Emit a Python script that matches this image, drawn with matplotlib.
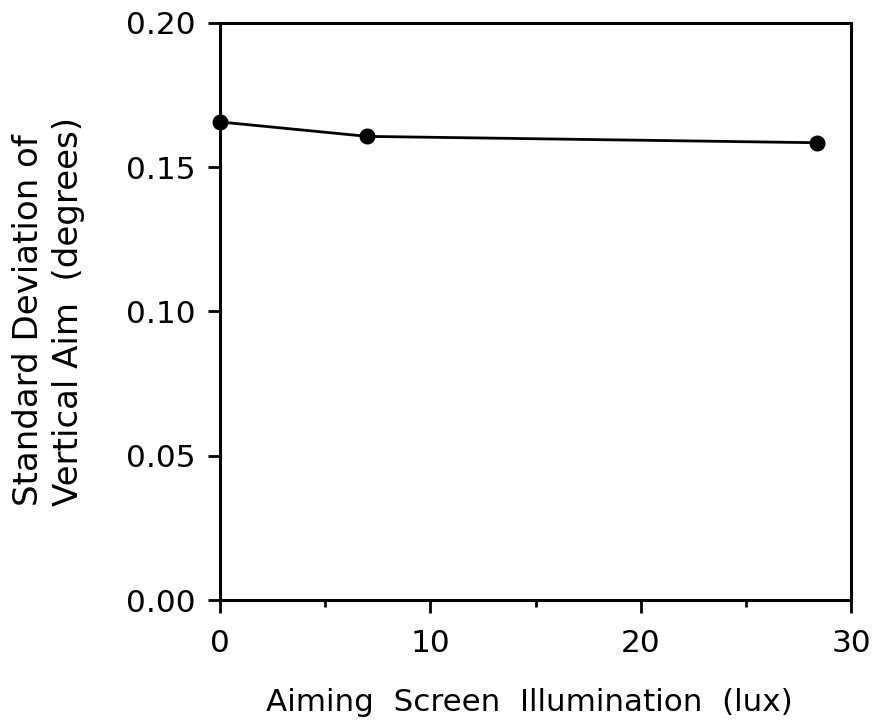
import matplotlib
matplotlib.use("Agg")
import matplotlib.pyplot as plt
from matplotlib.ticker import MultipleLocator

# Data
illumination = [0, 7.0, 28.4]
sd_vertical = [0.1657, 0.1607, 0.1585]

x_ticks = [0, 10, 20, 30]
y_ticks = [0.00, 0.05, 0.10, 0.15, 0.20]


def draw():
    plt.rcParams['font.family'] = ['DejaVu Sans']
    fig = plt.figure(figsize=(8.76, 7.22), dpi=100)
    ax = fig.add_axes([220 / 876, 1 - 600 / 722, 631 / 876, 577 / 722])

    ax.plot(illumination, sd_vertical, color='black', linewidth=2,
            marker='o', markersize=10.5, clip_on=False, zorder=3)

    ax.set_xlim(0, 30)
    ax.set_ylim(0, 0.20)
    ax.set_xticks(x_ticks)
    ax.set_xticklabels([str(v) for v in x_ticks])
    ax.set_yticks(y_ticks)
    ax.set_yticklabels(['%.2f' % v for v in y_ticks])
    ax.xaxis.set_minor_locator(MultipleLocator(5))

    for s in ax.spines.values():
        s.set_linewidth(2.2)
    ax.tick_params(axis='both', which='major', direction='out', length=9,
                   width=2, labelsize=22.5)
    ax.tick_params(axis='x', which='major', pad=12)
    ax.tick_params(axis='y', which='major', pad=8.5)
    ax.tick_params(axis='x', which='minor', direction='out', length=5, width=2)

    ax.set_xlabel('Aiming  Screen  Illumination  (lux)', fontsize=22.3)
    ax.xaxis.set_label_coords(0.491, -0.177)
    ax.xaxis.label.set_va('center')

    ax.set_ylabel('Standard Deviation of\nVertical Aim  (degrees)', fontsize=24.5,
                  linespacing=1.25, multialignment='left')
    ax.yaxis.set_label_coords(-0.272, 0.5)
    ax.yaxis.label.set_va('center')

    fig.savefig('out.png', dpi=100)


if __name__ == "__main__":
    draw()
